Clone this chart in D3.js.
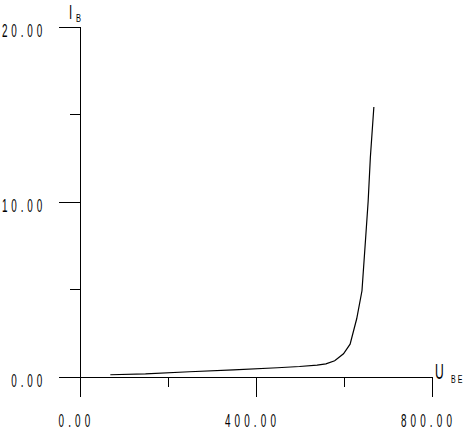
<!DOCTYPE html>
<html>
<head>
<meta charset="utf-8">
<script src="https://cdn.jsdelivr.net/npm/d3@7"></script>
<style>
  body { margin: 0; background: #fff; }
  text { font-family: "Liberation Sans", "DejaVu Sans", sans-serif; fill: #000; }
</style>
</head>
<body>
<svg id="chart" width="465" height="432"></svg>
<script>
// U_BE (mV) vs I_B readings
var ube = [70, 150, 250, 350, 450, 500, 540, 560, 580, 600, 615, 630, 642, 650, 656, 661, 669];
var ib  = [0.1, 0.15, 0.27, 0.38, 0.5, 0.57, 0.65, 0.72, 0.9, 1.3, 1.85, 3.3, 4.9, 7.8, 10, 12.5, 15.4];

var xMajor = [0, 400, 800];
var xMinor = [200, 600];
var yMajor = [0, 10, 20];
var yMinor = [5, 15];

var svg = d3.select("#chart");

var x = d3.scaleLinear().domain([0, 800]).range([79.5, 431.5]);
var y = d3.scaleLinear().domain([0, 20]).range([376.5, 26.5]);

// narrow plotter-like lettering
function label(px, py, str, size, sx, spacing, anchor) {
  return svg.append("text")
    .attr("transform", "translate(" + px + "," + py + ") scale(" + sx + ",1)")
    .attr("font-size", size + "px")
    .attr("letter-spacing", spacing + "px")
    .attr("text-anchor", anchor || "start")
    .text(str);
}

// x axis: major and minor ticks hang below the line
svg.append("g")
    .attr("transform", "translate(0," + y(0) + ")")
    .call(d3.axisBottom(x).tickValues(xMajor).tickSize(20).tickSizeOuter(0).tickFormat(""))
    .call(function(a) { a.select(".domain").remove(); });
svg.append("g")
    .attr("transform", "translate(0," + y(0) + ")")
    .call(d3.axisBottom(x).tickValues(xMinor).tickSize(10).tickSizeOuter(0).tickFormat(""));

// y axis
svg.append("g")
    .attr("transform", "translate(" + x(0) + ",0)")
    .call(d3.axisLeft(y).tickValues(yMajor).tickSize(21).tickSizeOuter(0).tickFormat(""))
    .call(function(a) { a.select(".domain").remove(); });
svg.append("g")
    .attr("transform", "translate(" + x(0) + ",0)")
    .call(d3.axisLeft(y).tickValues(yMinor).tickSize(10).tickSizeOuter(0).tickFormat(""));

svg.selectAll(".tick line, .domain")
    .attr("stroke", "#000")
    .attr("stroke-width", 1)
    .attr("shape-rendering", "crispEdges");

var fmt = d3.format(".2f");

// tick labels
yMajor.forEach(function(d) {
  label(46, y(d) + 10, fmt(d), 18, 0.55, 7, "end");
});
xMajor.forEach(function(d) {
  label(x(d) - 3, 427, fmt(d), 18, 0.55, 7.5, "middle");
});

// axis titles
label(69, 19, "I", 21, 0.55, 0);
label(76, 22, "B", 10, 0.75, 0);
label(435, 379, "U", 22, 0.55, 0);
label(451, 383, "BE", 10, 0.7, 3);

// curve
var line = d3.line()
    .x(function(d) { return x(d[0]); })
    .y(function(d) { return y(d[1]); });

svg.append("path")
    .datum(d3.zip(ube, ib))
    .attr("fill", "none")
    .attr("stroke", "#000")
    .attr("stroke-width", 1.2)
    .attr("d", line);
</script>
</body>
</html>
